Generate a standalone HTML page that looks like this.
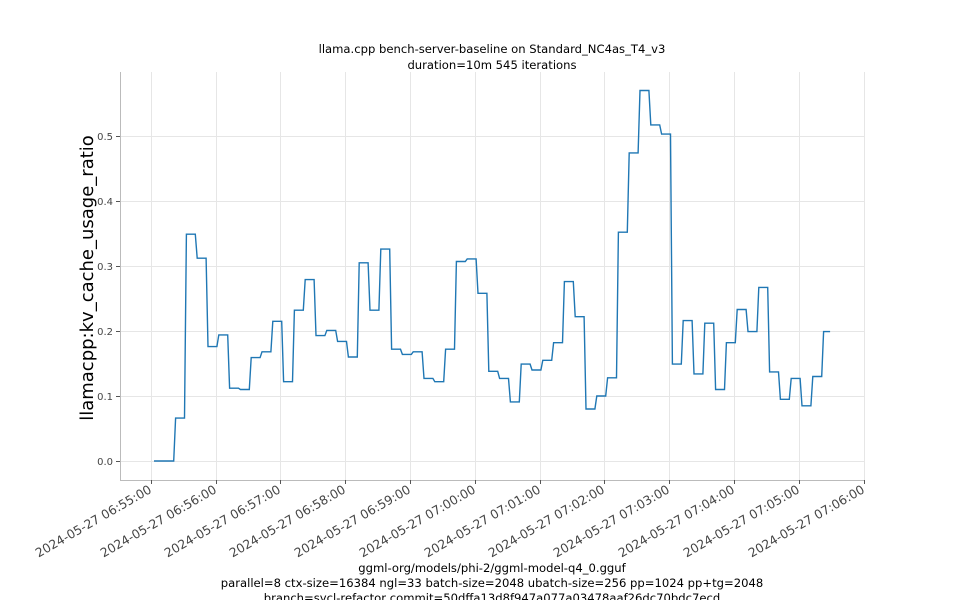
<!DOCTYPE html>
<html><head><meta charset="utf-8"><style>
body{margin:0;background:#fff;}
svg text{font-family:"DejaVu Sans","Liberation Sans",sans-serif;}
</style></head><body>
<svg width="960" height="600" viewBox="0 0 960 600">
<g id="grid"></g>
<line x1="120.5" y1="72" x2="120.5" y2="480" stroke="#bbb"/>
<line x1="120" y1="480.5" x2="864" y2="480.5" stroke="#bbb"/>
<g id="yticks"></g>
<g id="xticks"></g>
<path id="series" fill="none" stroke="#1f77b4" stroke-width="1.4"/>
<text x="492" y="53" font-size="11.6" text-anchor="middle" fill="#000">llama.cpp bench-server-baseline on Standard_NC4as_T4_v3</text>
<text x="492" y="69" font-size="11.6" text-anchor="middle" fill="#000">duration=10m 545 iterations</text>
<text transform="translate(93,278) rotate(-90)" font-size="18" text-anchor="middle" fill="#000">llamacpp:kv_cache_usage_ratio</text>
<text x="492" y="572" font-size="11.6" text-anchor="middle" fill="#000">ggml-org/models/phi-2/ggml-model-q4_0.gguf</text>
<text x="492" y="587" font-size="11.6" text-anchor="middle" fill="#000">parallel=8 ctx-size=16384 ngl=33 batch-size=2048 ubatch-size=256 pp=1024 pp+tg=2048</text>
<text x="492" y="602" font-size="11.6" text-anchor="middle" fill="#000">branch=sycl-refactor commit=50dffa13d8f947a077a03478aaf26dc70bdc7ecd</text>
</svg>
<script>
const values = [0,0,0.066,0.349,0.312,0.176,0.194,0.112,0.11,0.159,0.168,0.215,0.122,0.232,0.279,0.193,0.201,0.184,0.16,0.305,0.232,0.326,0.172,0.164,0.168,0.127,0.122,0.172,0.307,0.311,0.258,0.138,0.127,0.091,0.149,0.14,0.155,0.182,0.276,0.222,0.08,0.1,0.128,0.352,0.474,0.57,0.517,0.503,0.149,0.216,0.134,0.212,0.11,0.182,0.233,0.199,0.267,0.137,0.095,0.127,0.085,0.13,0.199];
const startSec = 3;
const stepSec = 10;
const yTicks = [0.0,0.1,0.2,0.3,0.4,0.5];
const yTickLabels = ["0.0","0.1","0.2","0.3","0.4","0.5"];
const xTickMinutes = [0,1,2,3,4,5,6,7,8,9,10,11];
const xTickLabels = ["2024-05-27 06:55:00","2024-05-27 06:56:00","2024-05-27 06:57:00","2024-05-27 06:58:00","2024-05-27 06:59:00","2024-05-27 07:00:00","2024-05-27 07:01:00","2024-05-27 07:02:00","2024-05-27 07:03:00","2024-05-27 07:04:00","2024-05-27 07:05:00","2024-05-27 07:06:00"];
const NS='http://www.w3.org/2000/svg';
function xs(sec){return 150.8+sec*64.8/60;}
function ys(v){return 461-v*650;}
const grid=document.getElementById('grid'),yt=document.getElementById('yticks'),xt=document.getElementById('xticks');
function mk(tag,attrs,parent){const e=document.createElementNS(NS,tag);for(const k in attrs)e.setAttribute(k,attrs[k]);parent.appendChild(e);return e;}
yTicks.forEach((v,i)=>{const y=Math.round(ys(v))+0.5;
 const g=mk('line',{x1:120,x2:864,y1:y,y2:y,stroke:'#e6e6e6'},grid);
 
 
 const t=mk('line',{x1:116,x2:120,y1:y,y2:y,stroke:'#555'},yt);
 
 
 const l=mk('text',{x:113,y:y+3.5,'font-size':10,'text-anchor':'end',fill:'#444'},yt);
 l.textContent=yTickLabels[i];
 
 
});
xTickMinutes.forEach((m,i)=>{const x=Math.round(xs(m*60))+0.5;
 const g=mk('line',{x1:x,x2:x,y1:72,y2:480,stroke:'#e6e6e6'},grid);
 
 
 const t=mk('line',{x1:x,x2:x,y1:480,y2:484,stroke:'#555'},xt);
 
 
 const l=mk('text',{transform:`translate(${x+1},${492}) rotate(-30)`,'font-size':12.4,'text-anchor':'end',fill:'#444'},xt);
 l.textContent=xTickLabels[i];
 
 
});
let d='';
values.forEach((v,i)=>{const t=startSec+i*stepSec;const x0=xs(t),y=ys(v);
 d+=(i===0?'M':'L')+x0.toFixed(1)+','+y.toFixed(1);
 const hold=(i===values.length-1)?6:stepSec*0.82;
 d+='L'+xs(t+hold).toFixed(1)+','+y.toFixed(1);
});
document.getElementById('series').setAttribute('d',d);
</script>
</body></html>
